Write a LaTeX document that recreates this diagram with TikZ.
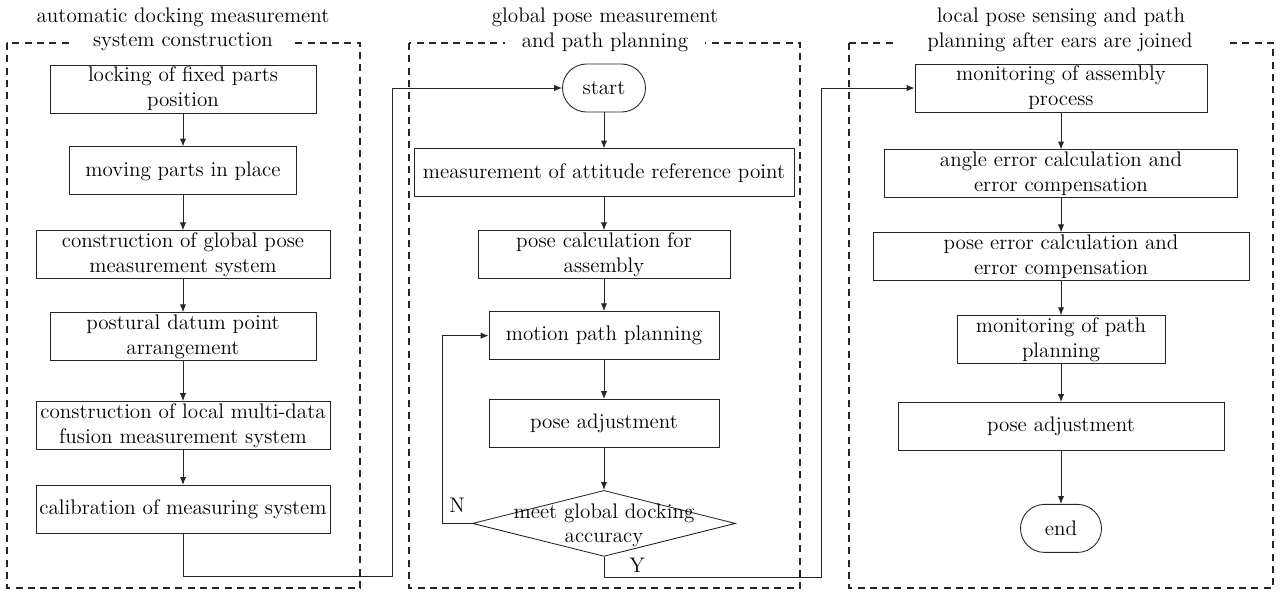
\documentclass[tikz,border=0pt]{standalone}
\usepackage{tikz}
\usetikzlibrary{shapes.geometric, arrows.meta, positioning, calc}
\tikzset{
  proc/.style={rectangle, draw=black!85, line width=0.5pt, align=center,
               minimum height=0.96cm, inner xsep=1pt, inner ysep=1pt,
               font=\fontsize{12}{14.2}\selectfont},
  term/.style={rectangle, rounded corners=0.48cm, draw=black!85, line width=0.5pt,
               minimum height=0.96cm, font=\fontsize{12}{14.2}\selectfont},
  decision/.style={diamond, draw=black!85, line width=0.5pt, inner sep=0pt,
                   minimum width=5.26cm, minimum height=1.32cm},
  frame/.style={draw=black!85, line width=0.6pt, dash pattern=on 4pt off 3pt},
  title/.style={fill=white, inner ysep=1pt, font=\fontsize{12}{14.2}\selectfont},
  arrow/.style={-{Latex[length=4.5pt,width=3.6pt]}, line width=0.55pt, draw=black!85},
  yn/.style={font=\fontsize{12}{14.2}\selectfont, inner sep=1pt},
}
\begin{document}
\begin{tikzpicture}[node distance=0.7cm]
  \useasboundingbox (0,0) rectangle (25.64,-11.82);
  % dashed stage frames
  \draw[frame] (0.14,-0.86) rectangle (7.2,-11.76);
  \draw[frame] (8.18,-0.86) rectangle (16.0,-11.76);
  \draw[frame] (16.98,-0.86) rectangle (25.46,-11.76);

  \node[title] (t1a) at (3.66,-0.34) {automatic docking measurement};
  \node[title, inner xsep=0.45cm] (t1b) at (3.66,-0.84) {system construction};
  \node[title] (t2a) at (12.1,-0.34) {global pose measurement};
  \node[title, inner xsep=0.34cm] (t2b) at (12.1,-0.84) {and path planning};
  \node[title] (t3a) at (21.22,-0.34) {local pose sensing and path};
  \node[title, inner xsep=0.68cm] (t3b) at (21.2,-0.84) {planning after ears are joined};

  % stage 1
  \node[proc, minimum width=5.32cm] (lock) at (3.66,-1.78) {locking of fixed parts\\position};
  \node[proc, minimum width=4.54cm, below=0.66cm of lock] (move) {moving parts in place};
  \node[proc, minimum width=5.88cm, below=0.7cm of move] (glob) {construction of global pose\\measurement system};
  \node[proc, minimum width=5.32cm, below=0.66cm of glob] (datum) {postural datum point\\arrangement};
  \node[proc, minimum width=5.88cm, below=0.8cm of datum] (local) {construction of local multi-data\\fusion measurement system};
  \node[proc, minimum width=5.88cm, below=0.7cm of local] (calib) {calibration of measuring system};

  % stage 2
  \node[term, minimum width=1.66cm] (start) at (12.08,-1.76) {start};
  \node[proc, minimum width=7.6cm, below=0.72cm of start] (meas) {measurement of attitude reference point};
  \node[proc, minimum width=5.04cm, below=0.66cm of meas] (pcalc) {pose calculation for\\assembly};
  \node[proc, minimum width=4.6cm, below=0.64cm of pcalc] (motion) {motion path planning};
  \node[proc, minimum width=4.6cm, below=0.78cm of motion] (adj) {pose adjustment};
  \node[decision, below=0.84cm of adj,
        label={[align=center, font=\fontsize{12}{14}\selectfont, yshift=-1pt]center:meet global docking\\accuracy}] (dec) {};

  % stage 3
  \node[proc, minimum width=5.84cm] (mon) at (21.22,-1.76) {monitoring of assembly\\process};
  \node[proc, minimum width=7.06cm, below=0.74cm of mon] (angle) {angle error calculation and\\error compensation};
  \node[proc, minimum width=7.52cm, below=0.68cm of angle] (perr) {pose error calculation and\\error compensation};
  \node[proc, minimum width=4.16cm, below=0.68cm of perr] (mpath) {monitoring of path\\planning};
  \node[proc, minimum width=6.52cm, below=0.76cm of mpath] (adj2) {pose adjustment};
  \node[term, minimum width=1.62cm, below=1.06cm of adj2] (stop) {end};

  \node[yn] (nlbl) at (9.14,-10.1) {N};
  \node[yn] (ylbl) at (12.74,-11.3) {Y};

  \coordinate (j1) at (7.84,-11.52);
  \coordinate (j2) at (8.84,0);
  \coordinate (j3) at (16.42,-11.54);

  \draw[arrow] (lock) -- (move);
  \draw[arrow] (move) -- (glob);
  \draw[arrow] (glob) -- (datum);
  \draw[arrow] (datum) -- (local);
  \draw[arrow] (local) -- (calib);
  \draw[arrow] (calib.south) |- (j1) |- (start.west);

  \draw[arrow] (start) -- (meas);
  \draw[arrow] (meas) -- (pcalc);
  \draw[arrow] (pcalc) -- (motion);
  \draw[arrow] (motion) -- (adj);
  \draw[arrow] (adj) -- (dec);
  \draw[arrow] (dec.west) -- (dec.west -| j2) |- (motion.west);
  \draw[arrow] (dec.south) |- (j3) |- (mon.west);

  \draw[arrow] (mon) -- (angle);
  \draw[arrow] (angle) -- (perr);
  \draw[arrow] (perr) -- (mpath);
  \draw[arrow] (mpath) -- (adj2);
  \draw[arrow] (adj2) -- (stop);
\end{tikzpicture}
\end{document}
